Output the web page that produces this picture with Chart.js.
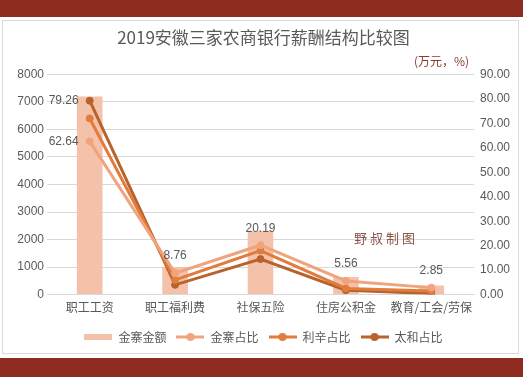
<!DOCTYPE html>
<html>
<head>
<meta charset="utf-8">
<script src="https://cdn.jsdelivr.net/npm/chart.js@4"></script>
<style>
	html, body { margin: 0; padding: 0; background: #fff; }
	body { width: 523px; height: 377px; position: relative; overflow: hidden; font-family: "Noto Sans CJK SC", sans-serif; }
	.band { position: absolute; left: 0; width: 523px; background: #8e2b1f; }
	#card { position: absolute; left: 2px; top: 20px; width: 517px; height: 334px; border: 1px solid #d9d9d9; box-sizing: border-box; background: #fff; }
	#unit { position: absolute; left: 414px; top: 52px; font-size: 12px; color: #8b3a2c; }
	#mark { position: absolute; left: 354px; top: 228px; font-size: 13px; color: #8a5548; letter-spacing: 3px; }
</style>
</head>
<body>
<div class="band" style="top:0;height:17px"></div>
<div id="card"><canvas id="chart" width="517" height="334"></canvas></div>
<div id="unit">(万元，%)</div>
<div id="mark">野叔制图</div>
<div class="band" style="top:358px;height:19px"></div>
<script>
const categories = ["职工工资", "职工福利费", "社保五险", "住房公积金", "教育/工会/劳保"];
const jinzhaiAmount = [7200, 1007, 2321, 639, 328];
const jinzhaiShare = [62.64, 8.76, 20.19, 5.56, 2.85];
const lixinShare = [72.0, 6.0, 18.0, 2.5, 1.5];
const taiheShare = [79.26, 4.0, 14.5, 1.8, 0.44];

const cBar = "#f4c1aa";
const cJin = "#f0a47e";
const cLix = "#e07c3c";
const cTai = "#b8622c";
const cnFont = "'Noto Sans CJK SC', sans-serif";

function legendIcon(color, isBar) {
	const c = document.createElement('canvas');
	c.width = 28; c.height = 10;
	const g = c.getContext('2d');
	if (isBar) {
		g.fillStyle = color;
		g.fillRect(0, 2, 28, 6);
	} else {
		g.strokeStyle = color;
		g.lineWidth = 3;
		g.beginPath(); g.moveTo(0, 5); g.lineTo(28, 5); g.stroke();
		g.fillStyle = color;
		g.beginPath(); g.arc(14, 5, 4, 0, Math.PI * 2); g.fill();
	}
	return c;
}

// labels for 金寨占比 and the first 太和 point
const valueLabels = {
	id: 'valueLabels',
	afterDatasetsDraw(chart) {
		const ctx = chart.ctx;
		ctx.save();
		ctx.font = "12px 'Liberation Sans', sans-serif";
		ctx.fillStyle = "#595959";
		ctx.textBaseline = "middle";
		const jin = chart.getDatasetMeta(1).data;
		jin.forEach((pt, i) => {
			const txt = jinzhaiShare[i].toFixed(2);
			if (i === 0) {
				ctx.textAlign = "right";
				ctx.fillText(txt, pt.x - 11, pt.y);
			} else {
				ctx.textAlign = "center";
				ctx.fillText(txt, pt.x, pt.y - 17);
			}
		});
		const tai = chart.getDatasetMeta(3).data[0];
		ctx.textAlign = "right";
		ctx.fillText(taiheShare[0].toFixed(2), tai.x - 11, tai.y);
		ctx.restore();
	}
};

const lineSet = (label, data, color) => ({
	type: 'line',
	label: label,
	data: data,
	yAxisID: 'y1',
	borderColor: color,
	backgroundColor: color,
	borderWidth: 3,
	pointRadius: 3.5,
	pointBorderWidth: 1,
	pointHoverRadius: 3.5,
	tension: 0,
	order: 1
});

new Chart(document.getElementById('chart'), {
	type: 'bar',
	data: {
		labels: categories,
		datasets: [
			{
				label: "金寨金额",
				data: jinzhaiAmount,
				backgroundColor: cBar,
				yAxisID: 'y',
				categoryPercentage: 1,
				barPercentage: 0.3,
				order: 2
			},
			lineSet("金寨占比", jinzhaiShare, cJin),
			lineSet("利辛占比", lixinShare, cLix),
			lineSet("太和占比", taiheShare, cTai)
		]
	},
	options: {
		responsive: false,
		animation: false,
		layout: { padding: { left: 4, right: 0, top: 0, bottom: 2 } },
		plugins: {
			title: {
				display: true,
				text: "2019安徽三家农商银行薪酬结构比较图",
				color: "#595959",
				font: { family: cnFont, size: 17, weight: 'normal' },
				padding: { top: 6, bottom: 27 }
			},
			legend: {
				position: 'bottom',
				labels: {
					usePointStyle: true,
					pointStyleWidth: 28,
					color: "#595959",
					font: { family: cnFont, size: 12 },
					padding: 10,
					generateLabels(chart) {
						const cols = [cBar, cJin, cLix, cTai];
						return chart.data.datasets.map((ds, i) => ({
							text: ds.label,
							pointStyle: legendIcon(cols[i], i === 0),
							fillStyle: cols[i],
							strokeStyle: cols[i],
							lineWidth: 0,
							datasetIndex: i,
							fontColor: "#595959"
						}));
					}
				}
			},
			tooltip: { enabled: false }
		},
		scales: {
			x: {
				grid: { display: false, drawTicks: false },
				border: { color: "#d9d9d9" },
				ticks: { color: "#595959", font: { family: cnFont, size: 12 }, maxRotation: 0, autoSkip: false, padding: 6 }
			},
			y: {
				position: 'left',
				min: 0, max: 8000,
				ticks: {
					stepSize: 1000, color: "#595959",
					font: { family: "'Liberation Sans', sans-serif", size: 12 },
					callback: v => String(v)
				},
				grid: { color: "#d9d9d9", drawTicks: false },
				border: { display: false },
				afterFit(s) { s.width = 40; }
			},
			y1: {
				position: 'right',
				min: 0, max: 90,
				ticks: {
					stepSize: 10, color: "#595959", padding: 6,
					font: { family: "'Liberation Sans', sans-serif", size: 12 },
					callback: v => v.toFixed(2)
				},
				grid: { display: false, drawTicks: false },
				border: { display: false },
				afterFit(s) { s.width = 46; }
			}
		}
	},
	plugins: [valueLabels]
});
</script>
</body>
</html>
